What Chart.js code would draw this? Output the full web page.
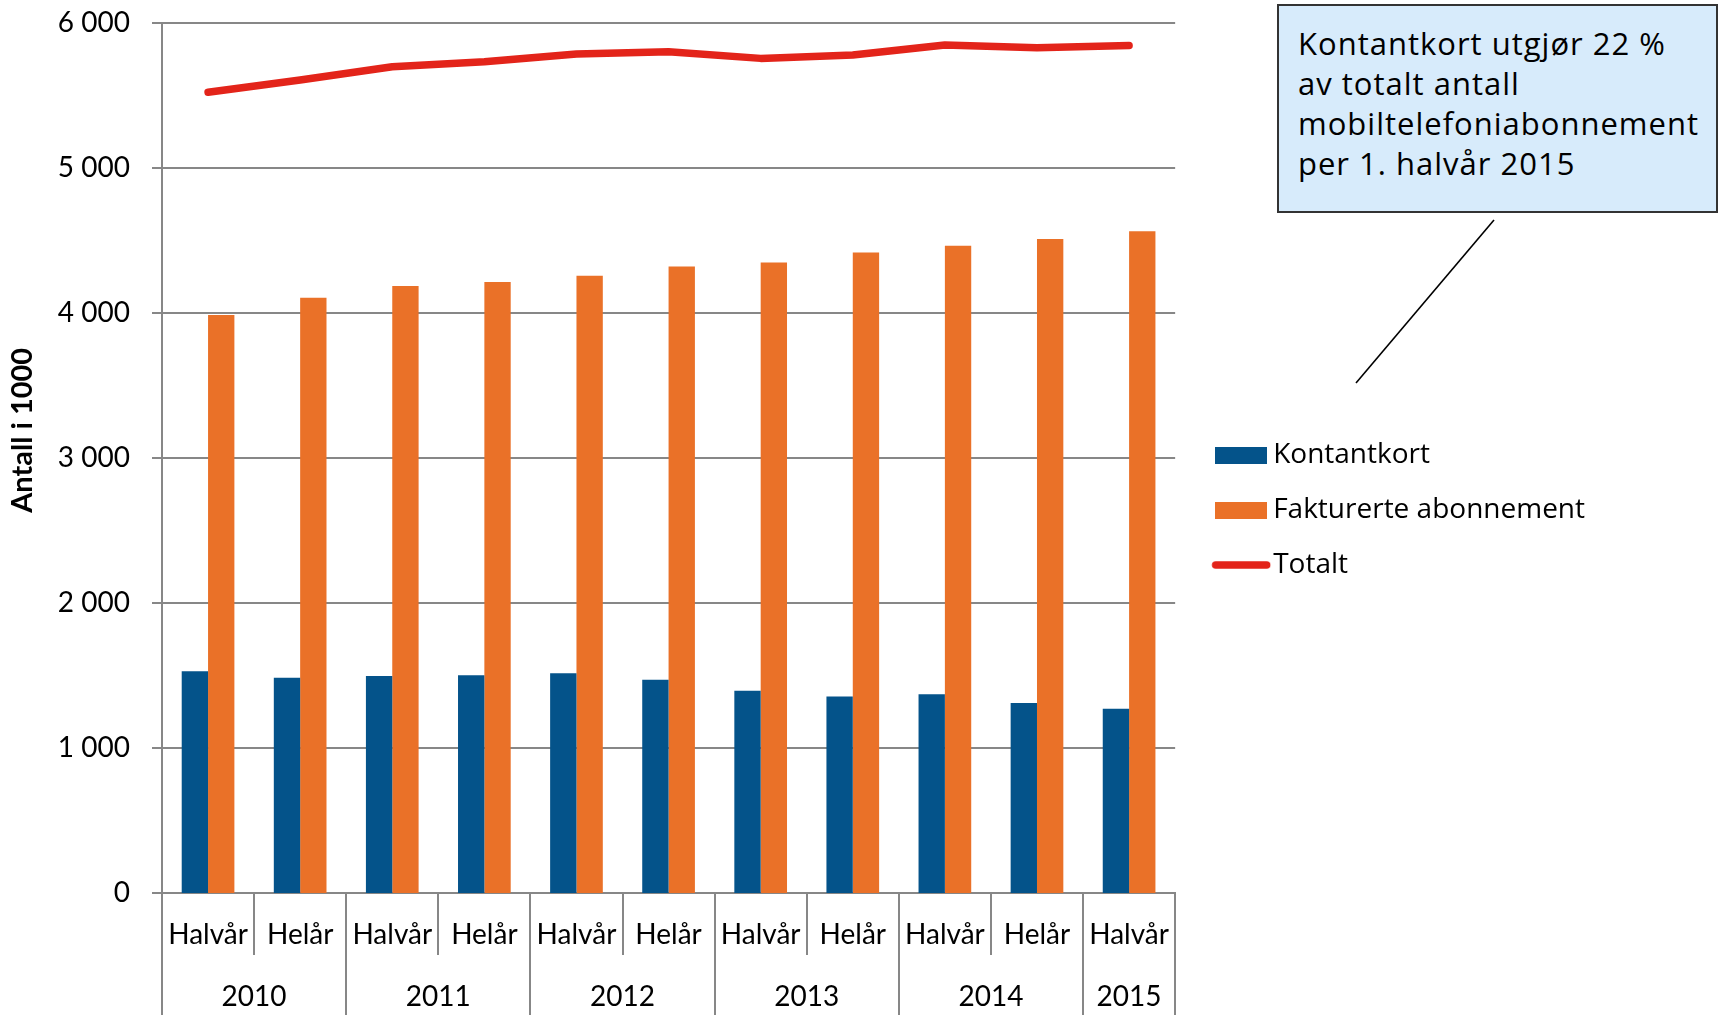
<!DOCTYPE html>
<html>
<head>
<meta charset="utf-8">
<script src="https://cdn.jsdelivr.net/npm/chart.js@4/dist/chart.umd.min.js"></script>
<style>
  html, body { margin: 0; padding: 0; background: #ffffff; }
  #wrap { position: relative; width: 1721px; height: 1015px; overflow: hidden; background: #fff; }
  #chart { position: absolute; left: 0; top: 0; }
  #callout {
    position: absolute; left: 1277px; top: 4px; width: 441px; height: 209px;
    box-sizing: border-box; border: 2px solid #333333; background: #d7ebfb;
    padding: 17px 0 0 19px; font-family: "Open Sans", sans-serif; font-size: 31px;
    letter-spacing: 1px; line-height: 40px; color: #000; white-space: nowrap;
  }
  #pointer { position: absolute; left: 0; top: 0; pointer-events: none; }
</style>
</head>
<body>
<div id="wrap">
  <canvas id="chart" width="1721" height="1015"></canvas>
  <div id="callout">Kontantkort utgjør 22 %<br>av totalt antall<br>mobiltelefoniabonnement<br>per 1. halvår 2015</div>
  <svg id="pointer" width="1721" height="1015"><line x1="1494" y1="220" x2="1356" y2="383" stroke="#000" stroke-width="1.6"/></svg>
</div>
<script>
// ---- data ----
const periodLabels = ['Halvår','Helår','Halvår','Helår','Halvår','Helår','Halvår','Helår','Halvår','Helår','Halvår'];
const yearLabels = ['2010','2011','2012','2013','2014','2015'];
const yearSpans = [2, 2, 2, 2, 2, 1];
const kontantkort = [1529, 1485, 1497, 1501, 1515, 1471, 1395, 1356, 1370, 1310, 1271];
const fakturerte = [3986, 4106, 4186, 4214, 4257, 4320, 4349, 4418, 4464, 4510, 4563];
const totalt = [5522, 5607, 5698, 5733, 5786, 5802, 5756, 5779, 5848, 5830, 5845];
const yTickValues = [0, 1000, 2000, 3000, 4000, 5000, 6000];
const seriesNames = ['Kontantkort', 'Fakturerte abonnement', 'Totalt'];
const yAxisTitle = 'Antall i 1000';

// ---- derived year-axis ticks (boundaries + centres) ----
const yearBoundaries = [-0.5];
const yearCentres = [];
yearSpans.forEach((s) => {
  const start = yearBoundaries[yearBoundaries.length - 1];
  yearCentres.push(start + s / 2);
  yearBoundaries.push(start + s);
});
const yearTicks = [...yearBoundaries, ...yearCentres].sort((a, b) => a - b);
const isBoundary = (v) => yearBoundaries.some((b) => Math.abs(b - v) < 1e-6);
const yearLabelAt = (v) => {
  const i = yearCentres.findIndex((c) => Math.abs(c - v) < 1e-6);
  return i >= 0 ? yearLabels[i] : '';
};
const fmt = (v) => String(v).replace(/\B(?=(\d{3})+(?!\d))/g, ' ');

const GRID = '#878787';
const COLORS = ['#04538a', '#ea7128', '#e3241a'];
const PAD_L = -1200; // widens the layout budget so the right-hand legend is not capped

// legend swatches (rect for bars, round-capped stroke for the line)
function rectSwatch(color) {
  const c = document.createElement('canvas'); c.width = 52; c.height = 17;
  const g = c.getContext('2d'); g.fillStyle = color; g.fillRect(0, 0, 52, 17); return c;
}
function lineSwatch(color, w) {
  const c = document.createElement('canvas'); c.width = 60; c.height = 10;
  const g = c.getContext('2d'); g.strokeStyle = color; g.lineWidth = w; g.lineCap = 'round';
  g.beginPath(); g.moveTo(4.5, 5); g.lineTo(55.5, 5); g.stroke(); return c;
}

Chart.defaults.font.family = 'Lato';
Chart.defaults.color = '#000';

new Chart(document.getElementById('chart'), {
  type: 'bar',
  data: {
    labels: periodLabels,
    datasets: [
      { label: seriesNames[0], data: kontantkort, backgroundColor: COLORS[0], borderWidth: 0,
        categoryPercentage: 0.572, barPercentage: 1.0 },
      { label: seriesNames[1], data: fakturerte, backgroundColor: COLORS[1], borderWidth: 0,
        categoryPercentage: 0.572, barPercentage: 1.0 },
      { label: seriesNames[2], data: totalt, type: 'line', borderColor: COLORS[2], backgroundColor: COLORS[2],
        borderWidth: 7.5, pointRadius: 0, tension: 0, borderCapStyle: 'round', borderJoinStyle: 'round', fill: false }
    ]
  },
  options: {
    responsive: false,
    devicePixelRatio: 1,
    animation: false,
    layout: { padding: { top: 5, right: 126, bottom: 0, left: PAD_L } },
    plugins: {
      tooltip: { enabled: false },
      title: { display: false },
      legend: {
        position: 'right',
        align: 'center',
        labels: {
          usePointStyle: true,
          pointStyleWidth: 36,
          boxHeight: 17,
          padding: 27,
          color: '#000',
          font: { family: 'Open Sans', size: 28 },
          generateLabels(chart) {
            const items = Chart.defaults.plugins.legend.labels.generateLabels(chart);
            items.forEach((it) => {
              const ds = chart.data.datasets[it.datasetIndex];
              it.pointStyle = ds.type === 'line' ? lineSwatch(ds.borderColor, ds.borderWidth) : rectSwatch(ds.backgroundColor);
              it.lineWidth = 0;
            });
            return items;
          }
        }
      }
    },
    scales: {
      x: {
        type: 'category',
        position: 'bottom',
        weight: 0,
        offset: true,
        grid: { offset: true, drawOnChartArea: false, drawTicks: true, tickLength: 62, color: GRID, lineWidth: 2 },
        border: { display: true, color: GRID, width: 2 },
        ticks: { autoSkip: false, maxRotation: 0, minRotation: 0, padding: -36.8, font: { size: 28 }, color: '#000' },
        afterFit(s) { s.height = 62; }
      },
      year: {
        type: 'linear',
        axis: 'x',
        position: 'bottom',
        weight: 1,
        offset: false,
        min: -0.5,
        max: 10.5,
        afterBuildTicks(s) { s.ticks = yearTicks.map((v) => ({ value: v })); },
        grid: {
          offset: false, drawOnChartArea: false, drawTicks: true, tickLength: 60, lineWidth: 2,
          color: (c) => (c.tick && isBoundary(c.tick.value) ? GRID : 'rgba(0,0,0,0)'),
          tickColor: (c) => (c.tick && isBoundary(c.tick.value) ? GRID : 'rgba(0,0,0,0)')
        },
        border: { display: false },
        ticks: { autoSkip: false, maxRotation: 0, minRotation: 0, padding: -34.8, font: { size: 28 }, color: '#000',
          callback: (v) => yearLabelAt(v) },
        afterFit(s) { s.height = 60; }
      },
      gapT: {
        type: 'linear', axis: 'x', position: 'top', display: true, offset: false,
        grid: { display: false, offset: false }, border: { display: false }, ticks: { display: false },
        afterFit(s) { s.height = 18; }
      },
      gapR: {
        type: 'linear', axis: 'y', position: 'right', display: true,
        grid: { display: false }, border: { display: false }, ticks: { display: false },
        afterFit(s) { s.width = 21; }
      },
      y: {
        type: 'linear',
        position: 'left',
        min: 0,
        max: 6000,
        afterBuildTicks(s) { s.ticks = yTickValues.map((v) => ({ value: v })); },
        grid: { color: GRID, lineWidth: 2, tickLength: 32, drawTicks: true, tickBorderDash: [0, 22, 10, 100] },
        border: { display: true, color: GRID, width: 2 },
        ticks: { padding: 0, font: { size: 28 }, color: '#000', callback: (v) => fmt(v) },
        title: { display: true, text: '\u00A0'.repeat(8) + yAxisTitle, color: '#000', font: { size: 29, weight: 'bold' },
          padding: { top: -PAD_L + 5, bottom: 0 } },
        afterFit(s) { s.width = 162 - PAD_L; }
      }
    }
  }
});
</script>
</body>
</html>
